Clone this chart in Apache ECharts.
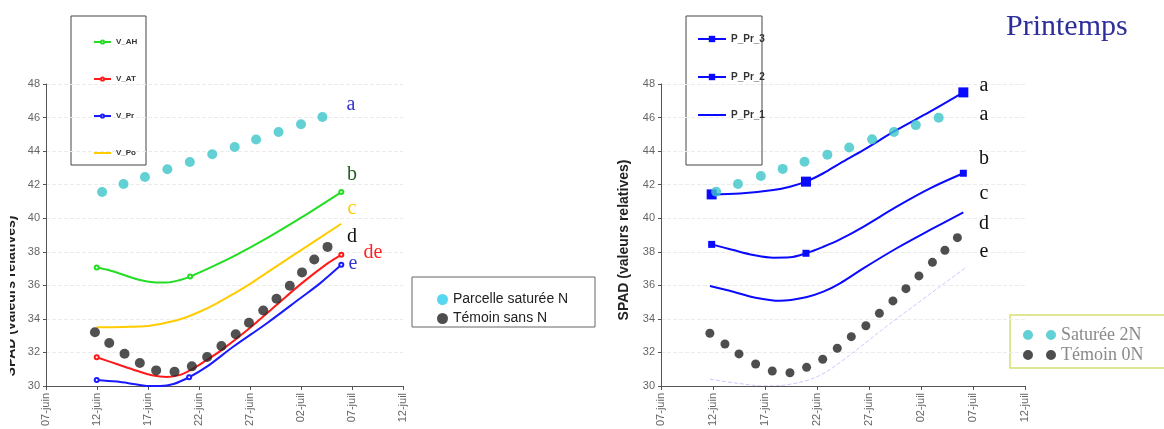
<!DOCTYPE html>
<html>
<head>
<meta charset="utf-8">
<script src="https://cdn.jsdelivr.net/npm/echarts@6/dist/echarts.min.js"></script>
<style>
html,body{margin:0;padding:0;background:#fff;}
#c{width:1164px;height:429px;}
</style>
</head>
<body>
<div id="c"></div>
<script>
// ---- data (x = days counted from 07-juin) ----
var xTickLabels = ['07-juin','12-juin','17-juin','22-juin','27-juin','02-juil','07-juil','12-juil'];

// left chart curves
var vAHDays = [4.97, 6.28, 7.92, 9.22, 10.53, 11.84, 13.15, 14.13, 15.77, 18.38, 21.66, 24.93, 28.95];
var vAHVals = [37.06, 36.88, 36.56, 36.32, 36.19, 36.17, 36.32, 36.52, 36.96, 37.72, 38.81, 40.00, 41.56];
var vAHMarks = [0, 7, 12];
var vATDays = [4.97, 6.93, 8.90, 10.53, 11.84, 13.15, 14.46, 15.77, 17.24, 19.95, 22.60, 25.09, 27.64, 28.95];
var vATVals = [31.71, 31.31, 30.91, 30.62, 30.54, 30.66, 31.05, 31.55, 32.15, 33.44, 34.83, 36.13, 37.32, 37.82];
var vATMarks = [0, 13];
var vPrDays = [4.97, 6.93, 8.57, 9.88, 11.19, 12.50, 14.03, 15.77, 18.38, 21.66, 24.93, 26.89, 28.95];
var vPrVals = [30.36, 30.26, 30.12, 30.0, 30.0, 30.12, 30.52, 31.15, 32.35, 33.74, 35.23, 36.13, 37.22];
var vPrMarks = [0, 6, 12];
var vPoDays = [4.97, 7.59, 9.98, 11.84, 13.48, 15.11, 16.75, 18.38, 20.02, 21.66, 24.93, 28.95];
var vPoVals = [33.50, 33.52, 33.58, 33.78, 34.04, 34.44, 34.93, 35.49, 36.09, 36.76, 38.07, 39.67];
var vPoMarks = [];

var leftSatDays = [5.5, 7.6, 9.7, 11.9, 14.1, 16.3, 18.5, 20.6, 22.8, 25.0, 27.1];
var leftSatVals = [41.56, 42.04, 42.46, 42.92, 43.35, 43.81, 44.25, 44.69, 45.14, 45.6, 46.03];
var leftCtlDays = [4.8, 6.2, 7.7, 9.2, 10.8, 12.6, 14.3, 15.8, 17.2, 18.6, 19.9, 21.3, 22.6, 23.9, 25.1, 26.3, 27.6];
var leftCtlVals = [33.2, 32.56, 31.92, 31.37, 30.93, 30.85, 31.17, 31.73, 32.38, 33.08, 33.77, 34.5, 35.2, 35.97, 36.77, 37.54, 38.29];

// right chart curves
var pPr3Days = [4.87, 7.6, 10.8, 12.4, 13.94, 15.61, 17.21, 19.45, 22.66, 25.87, 29.07];
var pPr3Vals = [41.42, 41.48, 41.68, 41.88, 42.18, 42.68, 43.27, 44.06, 45.26, 46.35, 47.50];
var pPr3Marks = [0, 4, 10];
var pPr2Days = [4.87, 6.95, 8.88, 10.8, 12.4, 13.94, 15.61, 17.21, 19.45, 22.66, 25.87, 29.07];
var pPr2Vals = [38.44, 38.10, 37.81, 37.65, 37.67, 37.91, 38.30, 38.74, 39.49, 40.69, 41.78, 42.68];
var pPr2Marks = [0, 5, 11];
var pPr1Days = [4.71, 6.95, 8.88, 11.44, 13.94, 15.61, 17.21, 19.45, 22.66, 25.87, 29.07];
var pPr1Vals = [35.96, 35.62, 35.29, 35.08, 35.29, 35.62, 36.12, 37.01, 38.21, 39.30, 40.35];
var pPr1Marks = [];
var faintDays = [4.71, 7.5, 10.0, 12.4, 15.0, 17.2, 22.0, 29.4];
var faintVals = [30.40, 30.15, 30.0, 30.1, 30.55, 31.4, 33.7, 37.1];

var rightSatDays = [5.3, 7.4, 9.6, 11.7, 13.8, 16.0, 18.1, 20.3, 22.4, 24.5, 26.7];
var rightSatVals = [41.58, 42.04, 42.52, 42.94, 43.37, 43.78, 44.22, 44.70, 45.14, 45.55, 45.99];
var rightCtlDays = [4.7, 6.15, 7.5, 9.1, 10.7, 12.4, 14.0, 15.55, 16.95, 18.3, 19.7, 21.0, 22.3, 23.55, 24.8, 26.1, 27.3, 28.5];
var rightCtlVals = [33.14, 32.5, 31.91, 31.31, 30.89, 30.79, 31.11, 31.59, 32.25, 32.94, 33.59, 34.33, 35.07, 35.8, 36.56, 37.37, 38.09, 38.84];

function zip(xs, ys) { return xs.map(function (x, i) { return [x, ys[i]]; }); }

var SANS = 'Liberation Sans';
var SERIF = 'Liberation Serif';

function xAxisCfg(idx) {
  return {
    type: 'value', gridIndex: idx, min: 0, max: 35, interval: 5,
    axisLine: { show: true, lineStyle: { color: '#555', width: 1 } },
    axisTick: { show: true, length: 4, lineStyle: { color: '#555' } },
    splitLine: { show: false },
    axisLabel: {
      rotate: 90, margin: 7, fontSize: 11, color: '#666', fontFamily: SANS,
      formatter: function (v) { return xTickLabels[Math.round(v / 5)]; }
    }
  };
}
function yAxisCfg(idx) {
  return {
    type: 'value', gridIndex: idx, min: 30, max: 48, interval: 2,
    axisLine: { show: true, lineStyle: { color: '#555', width: 1 } },
    axisTick: { show: true, length: 3, lineStyle: { color: '#555' } },
    splitLine: { show: true, lineStyle: { color: '#ececec', type: 'dashed' } },
    axisLabel: { margin: 6, fontSize: 11, color: '#666', fontFamily: SANS }
  };
}
function curve(name, idx, days, vals, marks, color, symbol, size) {
  var data = days.map(function (d, i) {
    return marks.indexOf(i) >= 0 ? { value: [d, vals[i]] } : { value: [d, vals[i]], symbol: 'none' };
  });
  return {
    name: name, type: 'line', xAxisIndex: idx, yAxisIndex: idx,
    data: data, smooth: 0.35,
    symbol: symbol, symbolSize: size, showSymbol: true,
    itemStyle: { color: color }, lineStyle: { color: color, width: 2 }, z: 2
  };
}
function dots(name, idx, xs, ys, color, size) {
  return {
    name: name, type: 'scatter', xAxisIndex: idx, yAxisIndex: idx,
    data: zip(xs, ys), symbol: 'circle', symbolSize: size,
    itemStyle: { color: color }, z: 4
  };
}

var chart = echarts.init(document.getElementById('c'), null, { renderer: 'canvas' });

var letter = function (t, x, y, color) {
  return { type: 'text', x: x, y: y, z: 50,
    style: { text: t, fill: color, font: '20px "' + SERIF + '"', textAlign: 'center', textVerticalAlign: 'middle' } };
};

chart.setOption({
  animation: false,
  backgroundColor: '#fff',
  grid: [
    { left: 46, right: 761, top: 84, bottom: 43 },
    { left: 661, right: 139, top: 84, bottom: 43 }
  ],
  xAxis: [xAxisCfg(0), xAxisCfg(1)],
  yAxis: [yAxisCfg(0), yAxisCfg(1)],
  legend: [
    { data: ['V_AH', 'V_AT', 'V_Pr', { name: 'V_Po', itemStyle: { opacity: 0 } }],
      orient: 'vertical', left: 88, top: 32,
      itemWidth: 17, itemHeight: 4, itemGap: 27, selectedMode: false,
      textStyle: { fontSize: 8, fontWeight: 'bold', color: '#333', fontFamily: SANS, lineHeight: 10 } },
    { data: [{ name: 'Parcelle saturée N', itemStyle: { color: '#2ccdee' } }, { name: 'Témoin sans N', itemStyle: { color: '#222' } }],
      orient: 'vertical', left: 432, top: 287, icon: 'circle',
      itemWidth: 11, itemHeight: 11, itemGap: 4, selectedMode: false,
      textStyle: { fontSize: 14, color: '#222', fontFamily: SANS, lineHeight: 15 } },
    { data: ['P_Pr_3', 'P_Pr_2', { name: 'P_Pr_1', itemStyle: { opacity: 0 } }],
      orient: 'vertical', left: 692, top: 29,
      itemWidth: 28, itemHeight: 8, itemGap: 28, selectedMode: false,
      textStyle: { fontSize: 10, fontWeight: 'bold', color: '#333', fontFamily: SANS, lineHeight: 10 } },
    { data: ['Saturée 2N', 'Témoin 0N'], orient: 'vertical', left: 1018, top: 321,
      icon: 'path://M0,5a5,5 0 1,0 10,0a5,5 0 1,0 -10,0M23,5a5,5 0 1,0 10,0a5,5 0 1,0 -10,0',
      itemWidth: 33, itemHeight: 10, itemGap: 2, selectedMode: false,
      textStyle: { fontSize: 18, color: '#8a8a8a', fontFamily: SERIF, lineHeight: 18 } }
  ],
  graphic: [
    { type: 'rect', x: 71, y: 16, z: 0, shape: { width: 75, height: 149 }, style: { fill: 'none', stroke: '#444', lineWidth: 1 } },
    { type: 'rect', x: 412, y: 277, z: 0, shape: { width: 183, height: 50 }, style: { fill: '#fff', stroke: '#666', lineWidth: 1 } },
    { type: 'rect', x: 686, y: 16, z: 0, shape: { width: 76, height: 149 }, style: { fill: 'none', stroke: '#444', lineWidth: 1 } },
    { type: 'rect', x: 1010, y: 315, z: 0, shape: { width: 170, height: 53 }, style: { fill: '#fff', stroke: '#d6e070', lineWidth: 1.5 } },
    { type: 'text', x: 11, y: 296, rotation: Math.PI / 2, z: 40,
      style: { text: 'SPAD (valeurs relatives)', fill: '#222', font: 'bold 14px "' + SANS + '"', textAlign: 'center', textVerticalAlign: 'middle' } },
    { type: 'rect', x: 0, y: 150, z: 45, shape: { width: 10, height: 260 }, style: { fill: '#fff' } },
    { type: 'text', x: 624, y: 240, rotation: Math.PI / 2, z: 40,
      style: { text: 'SPAD (valeurs relatives)', fill: '#222', font: 'bold 14px "' + SANS + '"', textAlign: 'center', textVerticalAlign: 'middle' } },
    { type: 'text', x: 1006, y: 27, z: 40,
      style: { text: 'Printemps', fill: '#2e2e9a', font: '30px "' + SERIF + '"', textAlign: 'left', textVerticalAlign: 'middle' } },
    letter('a', 351, 105, '#3535cc'),
    letter('b', 352, 175, '#1d5e1d'),
    letter('c', 352, 209, '#ffcc00'),
    letter('d', 352, 237, '#111'),
    letter('de', 373, 253, '#ff2020'),
    letter('e', 353, 264, '#3535cc'),
    letter('a', 984, 86, '#111'),
    letter('a', 984, 115, '#111'),
    letter('b', 984, 159, '#111'),
    letter('c', 984, 194, '#111'),
    letter('d', 984, 224, '#111'),
    letter('e', 984, 252, '#111')
  ],
  series: [
    curve('V_AH', 0, vAHDays, vAHVals, vAHMarks, '#22dd22', 'emptyCircle', 4),
    curve('V_AT', 0, vATDays, vATVals, vATMarks, '#ff1a1a', 'emptyCircle', 4),
    curve('V_Pr', 0, vPrDays, vPrVals, vPrMarks, '#1a1aff', 'emptyCircle', 4),
    curve('V_Po', 0, vPoDays, vPoVals, vPoMarks, '#ffcc00', 'none', 0),
    dots('Parcelle saturée N', 0, leftSatDays, leftSatVals, '#3cc6c8', 10),
    dots('Témoin sans N', 0, leftCtlDays, leftCtlVals, '#262626', 10),
    curve('P_Pr_3', 1, pPr3Days, pPr3Vals, pPr3Marks, '#0a0aff', 'rect', 10),
    curve('P_Pr_2', 1, pPr2Days, pPr2Vals, pPr2Marks, '#0a0aff', 'rect', 7),
    curve('P_Pr_1', 1, pPr1Days, pPr1Vals, pPr1Marks, '#0a0aff', 'none', 0),
    { name: 'faint', type: 'line', xAxisIndex: 1, yAxisIndex: 1, data: zip(faintDays, faintVals),
      smooth: 0.35, symbol: 'none',
      lineStyle: { color: 'rgba(40,40,255,0.25)', width: 1, type: 'dashed' }, z: 1 },
    dots('Saturée 2N', 1, rightSatDays, rightSatVals, '#3cc6c8', 10),
    dots('Témoin 0N', 1, rightCtlDays, rightCtlVals, '#222', 9)
  ]
});
</script>
</body>
</html>
